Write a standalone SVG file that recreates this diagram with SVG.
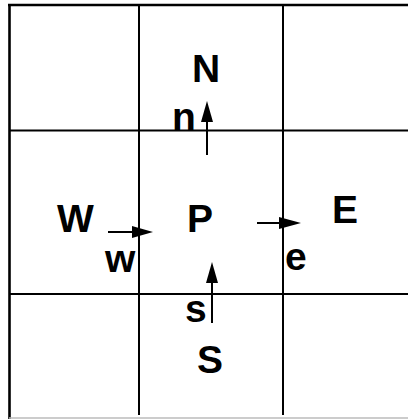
<svg xmlns="http://www.w3.org/2000/svg" width="408" height="419" viewBox="0 0 408 419">
<style>
.g{stroke:#000;stroke-width:2;fill:none}
.b{stroke:#000;stroke-width:2.6;fill:none}
.a{stroke:#000;stroke-width:2;fill:none}
.h{fill:#000;stroke:none}
text{font-family:"Liberation Sans",Arial,sans-serif;font-size:39px;font-weight:bold;fill:#000}
</style>
<rect width="408" height="419" fill="#fff"/>
<g id="grid">
<line class="b" x1="8" y1="5" x2="408" y2="5"/>
<line class="b" x1="9.5" y1="4" x2="9.5" y2="419"/>
<line class="g" x1="9" y1="130.5" x2="408" y2="130.5"/>
<line class="g" x1="9" y1="294" x2="408" y2="294"/>
<line class="g" x1="139" y1="5" x2="139" y2="415"/>
<line class="g" x1="283" y1="5" x2="283" y2="415"/>
<line x1="9" y1="418" x2="408" y2="418" stroke="#bbb" stroke-width="1.5"/>
</g>
<g id="node-N"><text x="192" y="82">N</text></g>
<g id="node-P"><text x="187" y="232">P</text></g>
<g id="node-W"><text x="57" y="232">W</text></g>
<g id="node-E"><text x="332" y="223">E</text></g>
<g id="node-S"><text x="197" y="373">S</text></g>
<g id="face-n"><text x="172" y="130">n</text></g>
<g id="face-w"><text x="105" y="272">w</text></g>
<g id="face-e"><text x="285" y="270">e</text></g>
<g id="face-s"><text x="185" y="322">s</text></g>
<g id="connectors">
<line class="a" x1="207" y1="155" x2="207" y2="112"/>
<polygon class="h" points="207,101 213,122 201,122"/>
<line class="a" x1="108" y1="232" x2="140" y2="232"/>
<polygon class="h" points="153,232 132,226 132,238"/>
<line class="a" x1="257" y1="223" x2="288" y2="223"/>
<polygon class="h" points="301,223 279,217 279,229"/>
<line class="a" x1="212" y1="323" x2="212" y2="275"/>
<polygon class="h" points="212,262 218,283 206,283"/>
</g>
</svg>
